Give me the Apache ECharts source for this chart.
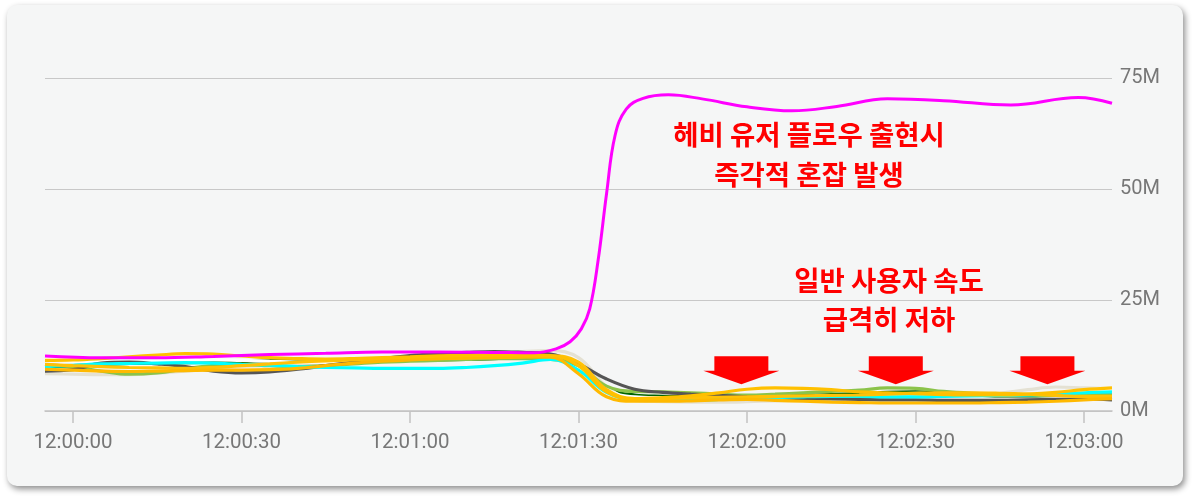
<!DOCTYPE html>
<html>
<head>
<meta charset="utf-8">
<script src="https://cdn.jsdelivr.net/npm/echarts@6/dist/echarts.min.js"></script>
<style>
html,body{margin:0;padding:0;background:#ffffff;width:1200px;height:498px;overflow:hidden;}
#card{position:absolute;left:7px;top:5px;width:1176px;height:481px;background:#f5f6f6;border-radius:10px;box-shadow:2px 3px 6px rgba(0,0,0,0.45);}
#chart{position:absolute;left:0;top:0;width:1200px;height:498px;}
</style>
</head>
<body>
<div id="card"></div>
<div id="chart"></div>
<script>
// seconds relative to 12:00:00
const times = [-5,0,5,10,15,20,25,30,35,40,45,50,55,60,65,70,75,80,85,90,95,100,105,110,115,120,125,130,135,140,145,150,155,160,165,170,175,180,185];
const tickSeconds = [0,30,60,90,120,150,180];
const yTicks = [0,25,50,75];

// values in M
const beige  = [8.4,8.3,8.2,8.2,8.5,9.0,9.6,10.0,10.2,10.4,10.7,11.0,11.4,11.8,12.2,12.6,13.0,13.4,13.6,12.0,5.5,2.4,2.1,2.0,2.0,2.1,2.3,2.5,2.8,3.0,3.2,3.3,3.4,3.6,4.0,4.8,5.4,5.2,5.0];
const white  = [11.8,11.2,11.0,11.0,11.2,11.4,11.5,11.4,11.2,11.0,11.0,11.2,11.5,11.8,12.0,12.2,12.2,12.0,11.8,10.2,4.8,3.2,3.0,2.9,2.9,3.0,3.1,3.2,3.3,3.5,3.8,4.0,3.9,3.7,3.6,3.7,4.0,4.4,4.6];
const green  = [10.4,10.0,9.0,8.3,8.6,9.5,10.3,10.5,10.2,10.0,10.2,10.6,11.0,11.2,11.4,11.6,11.8,11.8,11.6,10.2,5.6,4.4,4.3,4.1,3.8,3.6,3.8,4.1,4.4,4.7,5.2,5.1,4.4,4.0,3.8,3.6,3.5,3.5,3.5];
const dgreen = [10.0,10.2,10.5,10.7,10.8,10.9,11.0,11.1,11.3,11.3,11.2,11.2,11.3,11.4,11.5,11.6,11.8,12.0,12.0,10.4,5.2,3.6,3.3,3.2,3.2,3.3,3.4,3.5,3.7,3.9,4.2,4.3,4.0,3.6,3.4,3.4,3.5,3.6,3.6];
const gray   = [9.0,9.3,10.8,11.0,10.6,10.0,9.0,8.6,8.8,9.4,10.2,11.0,11.8,12.5,12.9,13.2,13.4,13.2,12.8,10.6,7.2,4.9,4.2,3.8,3.5,3.2,3.0,2.8,2.7,2.6,2.5,2.5,2.4,2.4,2.4,2.5,2.6,2.7,2.5];
const cyan   = [10.0,10.3,10.6,10.7,10.8,10.9,10.8,10.5,10.3,10.0,9.8,9.7,9.6,9.6,9.6,9.8,10.2,10.8,11.6,9.2,4.2,2.6,2.5,2.5,2.6,2.8,3.0,3.2,3.3,3.3,3.2,3.2,3.3,3.4,3.5,3.6,3.8,4.1,4.3];
const amberA = [11.4,11.5,11.8,12.2,12.6,12.9,12.8,12.4,12.0,11.8,11.7,11.8,12.0,12.2,12.4,12.5,12.6,12.6,12.5,10.2,4.3,2.8,3.0,3.4,4.1,4.9,5.2,5.1,4.8,4.3,4.1,3.9,3.7,3.6,3.6,3.8,4.2,4.8,5.2];
const amberB = [9.4,9.2,9.0,8.9,9.0,9.1,9.2,9.2,9.3,9.6,10.2,10.8,11.2,11.5,11.8,12.0,12.1,12.2,12.1,8.4,3.2,2.2,2.2,2.3,2.5,2.6,2.4,2.2,2.0,1.9,1.8,1.8,1.8,1.8,1.9,2.0,2.2,2.5,2.8];
const amberC = [10.5,10.2,10.0,9.8,9.7,9.6,9.8,10.2,10.6,11.0,11.3,11.5,11.6,11.7,11.8,11.9,12.0,12.2,12.4,11.0,4.8,2.8,2.8,3.0,3.1,3.2,3.3,3.4,3.5,3.6,3.8,4.0,4.1,4.1,4.0,3.8,3.5,3.3,3.3];

const heavyTimes  = [-5,5,15,25,35,45,55,65,75,82,86,88.5,90.5,92,93.5,95,96.5,98.5,101.5,106,112,120,128,136,145,155,167,179,185];
const heavyValues = [12.4,12.0,12.0,12.3,12.7,13.0,13.3,13.3,13.2,13.1,14.0,15.6,18.5,23,34,49,62,68.0,70.4,71.2,70.3,68.5,67.6,68.6,70.3,69.9,68.9,70.6,69.3];

const arrowTimes = [119, 146.5, 173.5];
const arrowLevel = 9.2;

const note1 = ['헤비 유저 플로우 출현시', '즉각적 혼잡 발생'];
const note2 = ['일반 사용자 속도', '급격히 저하'];

function pairs(ts, vs){ return ts.map((t,i)=>[t, vs[i]]); }
function fmtTime(s){
  const total = 12*3600 + s;
  const h = Math.floor(total/3600), m = Math.floor((total%3600)/60), sec = total%60;
  const p = n => String(n).padStart(2,'0');
  return p(h)+':'+p(m)+':'+p(sec);
}

const normal = [
  {c:'#006400', d:dgreen},
  {c:'#e4e1d3', d:beige},
  {c:'#ffffff', d:white},
  {c:'#8bc34a', d:green},
  {c:'#555555', d:gray},
  {c:'#00ffff', d:cyan},
  {c:'#ffc107', d:amberC},
  {c:'#ffb900', d:amberB},
  {c:'#ffc000', d:amberA}
];

const series = normal.map(s => ({
  type:'line', data: pairs(times, s.d), smooth:0.4, symbol:'none',
  lineStyle:{color:s.c, width:3.2}, silent:true
}));

const arrowPath = 'path://M11,0 L65,0 L65,14.7 L76,14.7 L38,28 L0,14.7 L11,14.7 Z';
series.push({
  type:'line', data: pairs(heavyTimes, heavyValues), smooth:0.4, symbol:'none',
  lineStyle:{color:'#ff00ff', width:3}, silent:true,
  markPoint:{
    silent:true,
    symbol: arrowPath, symbolSize:[76,28], symbolKeepAspect:false,
    itemStyle:{color:'#ff0000'}, label:{show:false},
    data: arrowTimes.map(t => ({coord:[t, arrowLevel]}))
  }
});

const chart = echarts.init(document.getElementById('chart'), null, {renderer:'canvas'});
const textFont = 'bold 27.5px "Noto Sans CJK KR", sans-serif';
chart.setOption({
  backgroundColor:'transparent',
  animation:false,
  grid:{left:45, right:88, top:78, bottom:87},
  xAxis:{
    type:'value', min:-5, max:185,
    axisLine:{show:true, lineStyle:{color:'#c2c2c2', width:1.5}},
    axisTick:{show:true, customValues:tickSeconds, length:12, lineStyle:{color:'#c2c2c2', width:1.5}},
    axisLabel:{show:true, customValues:tickSeconds, formatter:v=>fmtTime(v), color:'#777777', fontSize:20.5, fontFamily:'Roboto', margin:21},
    splitLine:{show:false}
  },
  yAxis:{
    type:'value', position:'right', min:yTicks[0], max:yTicks[yTicks.length-1], interval:25,
    axisLine:{show:false}, axisTick:{show:false},
    axisLabel:{formatter:v=>v+'M', color:'#777777', fontSize:20, fontFamily:'Roboto', margin:8},
    splitLine:{lineStyle:{color:'#c8c8c8', width:1.2}}
  },
  series: series,
  graphic:[
    {type:'text', x:809, y:135, style:{text:note1[0], font:textFont, fill:'#ff0000', align:'center', verticalAlign:'middle'}},
    {type:'text', x:809, y:175, style:{text:note1[1], font:textFont, fill:'#ff0000', align:'center', verticalAlign:'middle'}},
    {type:'text', x:889, y:281, style:{text:note2[0], font:textFont, fill:'#ff0000', align:'center', verticalAlign:'middle'}},
    {type:'text', x:889, y:320, style:{text:note2[1], font:textFont, fill:'#ff0000', align:'center', verticalAlign:'middle'}}
  ]
});
</script>
</body>
</html>
